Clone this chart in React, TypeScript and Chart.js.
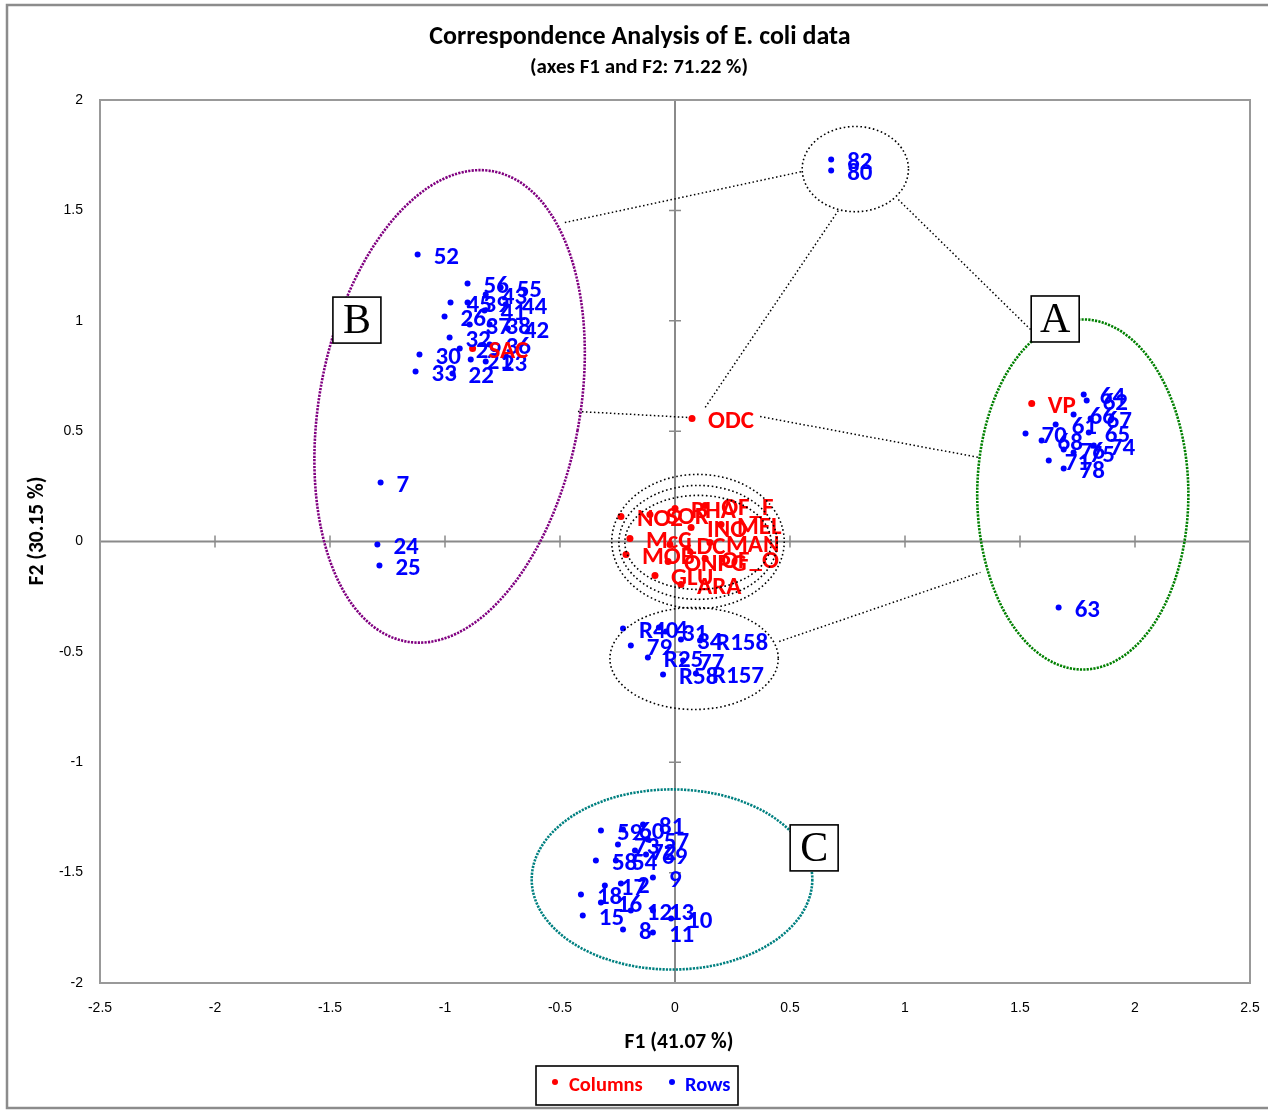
import React, { useEffect, useRef } from "react";
import { Chart, registerables } from "chart.js";

Chart.register(...registerables);

// ---------- axis ticks ----------
const xTickValues = [-2.5, -2, -1.5, -1, -0.5, 0, 0.5, 1, 1.5, 2, 2.5];
const yTickValues = [-2, -1.5, -1, -0.5, 0, 0.5, 1, 1.5, 2];

// ---------- Columns (variables, red) ----------
const columnLabels = ["SAC", "ODC", "VP", "NO2", "SOR", "RHA", "OF_F", "INO", "MEL", "McC", "LDC", "MAN", "MOB", "ONPG", "OF_O", "GLU", "ARA"];
const columnF1 = [-0.88, 0.074, 1.551, -0.235, -0.109, 0.0, 0.131, 0.07, 0.2, -0.196, -0.022, 0.152, -0.213, -0.03, 0.131, -0.087, 0.026];
const columnF2 = [0.874, 0.557, 0.625, 0.113, 0.122, 0.149, 0.163, 0.063, 0.077, 0.014, -0.014, -0.005, -0.059, -0.091, -0.077, -0.154, -0.195];

// ---------- Rows (observations, blue) ----------
const rowLabels = [
  "52", "56", "55", "43", "45", "39", "44", "41", "26", "37", "38", "42", "32", "29", "36", "30", "21", "23", "33", "22",
  "7", "24", "25",
  "82", "80",
  "64", "62", "66", "67", "70", "61", "65", "68", "76", "75", "74", "71", "78", "63",
  "R40", "4", "31", "34", "R158", "79", "R25", "77", "R58", "R157",
  "59", "60", "81", "73", "57", "72", "69", "58", "54", "9", "2", "17", "18", "16", "15", "8", "12", "13", "10", "11",
];
const rowF1 = [
  -1.119, -0.902, -0.758, -0.823, -0.976, -0.902, -0.736, -0.828, -1.002, -0.893, -0.806, -0.727, -0.98, -0.936, -0.806, -1.111, -0.888, -0.823, -1.128, -0.967,
  -1.28, -1.294, -1.285,
  0.679, 0.679,
  1.777, 1.79, 1.733, 1.807, 1.524, 1.655, 1.799, 1.594, 1.69, 1.733, 1.821, 1.625, 1.69, 1.668,
  -0.226, -0.07, -0.039, 0.026, 0.109, -0.192, -0.118, 0.035, -0.052, 0.091,
  -0.322, -0.226, -0.139, -0.248, -0.118, -0.174, -0.126, -0.344, -0.257, -0.096, -0.235, -0.305, -0.409, -0.322, -0.401, -0.226, -0.192, -0.096, -0.017, -0.096,
];
const rowF2 = [
  1.3, 1.169, 1.151, 1.119, 1.083, 1.083, 1.074, 1.046, 1.019, 0.983, 0.983, 0.965, 0.924, 0.874, 0.892, 0.847, 0.824, 0.815, 0.77, 0.761,
  0.267, -0.014, -0.109,
  1.73, 1.681,
  0.666, 0.639, 0.575, 0.557, 0.489, 0.53, 0.494, 0.458, 0.417, 0.403, 0.435, 0.367, 0.331, -0.299,
  -0.394, -0.39, -0.408, -0.444, -0.448, -0.471, -0.525, -0.539, -0.602, -0.598,
  -1.309, -1.305, -1.282, -1.373, -1.35, -1.4, -1.418, -1.445, -1.445, -1.522, -1.549, -1.558, -1.599, -1.635, -1.694, -1.758, -1.672, -1.672, -1.708, -1.771,
];

// ---------- annotation ellipses (data units) ----------
const ellipseCx = [-0.98, 1.773, -0.013, 0.784, 0.1, 0.1, 0.1, 0.083];
const ellipseCy = [0.612, 0.213, -1.531, 1.687, 0.0, -0.004, -0.004, -0.53];
const ellipseRx = [0.566, 0.459, 0.61, 0.231, 0.375, 0.344, 0.318, 0.366];
const ellipseRy = [1.083, 0.793, 0.408, 0.193, 0.304, 0.258, 0.213, 0.231];
const ellipseTilt = [10.5, 0, 0, 0, 0, 0, 0, 0];
const ellipseColors = ["#800080", "#008000", "#008080", "#000000", "#000000", "#000000", "#000000", "#000000"];

// ---------- connector lines (data units) ----------
const lineX1 = [-0.479, 0.71, 0.971, 0.37, -0.422, 0.453];
const lineY1 = [1.445, 1.499, 1.549, 0.566, 0.589, -0.453];
const lineX2 = [0.553, 0.131, 1.546, 1.32, 0.057, 1.328];
const lineY2 = [1.676, 0.607, 0.96, 0.381, 0.562, -0.14];

// ---------- group boxes ----------
const groupLetters = ["B", "A", "C"];
const groupX = [-1.383, 1.653, 0.605];
const groupY = [1.003, 1.008, -1.388];

const TEXT_FAMILY = 'Carlito, Lato, "Liberation Sans", sans-serif';
const LABEL_FONT = `bold 25px ${TEXT_FAMILY}`;

const overlayPlugin = {
  id: "overlay",
  beforeDatasetsDraw(chart: any) {
    const { ctx, chartArea: a, scales } = chart;
    const xs = scales.x;
    const ys = scales.y;
    const x0 = xs.getPixelForValue(0);
    const y0 = ys.getPixelForValue(0);
    ctx.save();
    // zero axes
    ctx.strokeStyle = "#8a8a8a";
    ctx.lineWidth = 2;
    ctx.beginPath();
    ctx.moveTo(a.left, y0);
    ctx.lineTo(a.right, y0);
    ctx.moveTo(x0, a.top);
    ctx.lineTo(x0, a.bottom);
    ctx.stroke();
    ctx.lineWidth = 1.5;
    ctx.beginPath();
    xTickValues.forEach((v) => {
      if (v === 0 || Math.abs(v) === 2.5) return;
      const px = xs.getPixelForValue(v);
      ctx.moveTo(px, y0 - 6);
      ctx.lineTo(px, y0 + 6);
    });
    yTickValues.forEach((v) => {
      if (v === 0 || Math.abs(v) === 2) return;
      const py = ys.getPixelForValue(v);
      ctx.moveTo(x0 - 6, py);
      ctx.lineTo(x0 + 6, py);
    });
    ctx.stroke();
    // plot frame
    ctx.strokeStyle = "#999999";
    ctx.lineWidth = 2;
    ctx.strokeRect(a.left, a.top, a.right - a.left, a.bottom - a.top);
    ctx.restore();
  },
  afterDatasetsDraw(chart: any) {
    const { ctx, scales } = chart;
    const xs = scales.x;
    const ys = scales.y;
    const pxPerX = Math.abs(xs.getPixelForValue(1) - xs.getPixelForValue(0));
    const pxPerY = Math.abs(ys.getPixelForValue(1) - ys.getPixelForValue(0));
    ctx.save();

    // point labels
    ctx.font = LABEL_FONT;
    ctx.textAlign = "left";
    ctx.textBaseline = "middle";
    const labelSets = [columnLabels, rowLabels];
    const labelColors = ["#ff0000", "#0000ff"];
    [1, 0].forEach((di) => {
      const meta = chart.getDatasetMeta(di);
      ctx.fillStyle = labelColors[di];
      meta.data.forEach((pt: any, i: number) => {
        ctx.fillText(labelSets[di][i], pt.x + 16, pt.y + 3);
      });
    });

    // ellipses
    ellipseCx.forEach((cx, i) => {
      const px = xs.getPixelForValue(cx);
      const py = ys.getPixelForValue(ellipseCy[i]);
      const colored = ellipseColors[i] !== "#000000";
      ctx.strokeStyle = ellipseColors[i];
      ctx.lineWidth = colored ? 2.6 : 1.6;
      ctx.setLineDash(colored ? [2.2, 1.2] : [1.6, 2.6]);
      ctx.beginPath();
      ctx.ellipse(px, py, ellipseRx[i] * pxPerX, ellipseRy[i] * pxPerY, (ellipseTilt[i] * Math.PI) / 180, 0, Math.PI * 2);
      ctx.stroke();
    });

    // connector lines
    ctx.strokeStyle = "#000000";
    ctx.lineWidth = 1.5;
    ctx.setLineDash([1.5, 2.5]);
    ctx.beginPath();
    lineX1.forEach((lx, i) => {
      ctx.moveTo(xs.getPixelForValue(lx), ys.getPixelForValue(lineY1[i]));
      ctx.lineTo(xs.getPixelForValue(lineX2[i]), ys.getPixelForValue(lineY2[i]));
    });
    ctx.stroke();
    ctx.setLineDash([]);

    // group boxes
    groupLetters.forEach((g, i) => {
      const cx = xs.getPixelForValue(groupX[i]);
      const cy = ys.getPixelForValue(groupY[i]);
      const w = 48;
      const h = 46;
      ctx.fillStyle = "#ffffff";
      ctx.fillRect(cx - w / 2, cy - h / 2, w, h);
      ctx.strokeStyle = "#000000";
      ctx.lineWidth = 1.6;
      ctx.strokeRect(cx - w / 2, cy - h / 2, w, h);
      ctx.fillStyle = "#000000";
      ctx.font = '42px "Liberation Serif", "DejaVu Serif", serif';
      ctx.textAlign = "center";
      ctx.textBaseline = "middle";
      ctx.fillText(g, cx, cy + 2);
    });
    ctx.restore();
  },
  afterDraw(chart: any) {
    const { ctx } = chart;
    ctx.save();
    ctx.fillStyle = "#000000";
    ctx.textAlign = "center";
    ctx.textBaseline = "middle";
    ctx.font = `bold 26px ${TEXT_FAMILY}`;
    ctx.fillText("Correspondence Analysis of E. coli data", 640, 37);
    ctx.font = `bold 21px ${TEXT_FAMILY}`;
    ctx.fillText("(axes F1 and F2: 71.22 %)", 639, 68);
    ctx.font = `bold 21.5px ${TEXT_FAMILY}`;
    ctx.fillText("F1 (41.07 %)", 679, 1043);
    ctx.save();
    ctx.translate(38, 531);
    ctx.rotate(-Math.PI / 2);
    ctx.fillText("F2 (30.15 %)", 0, 0);
    ctx.restore();

    // legend
    ctx.strokeStyle = "#000000";
    ctx.lineWidth = 1.6;
    ctx.strokeRect(536, 1066, 202, 39);
    ctx.textAlign = "left";
    ctx.font = `bold 20.5px ${TEXT_FAMILY}`;
    ctx.fillStyle = "#ff0000";
    ctx.beginPath();
    ctx.arc(555, 1082, 3, 0, Math.PI * 2);
    ctx.fill();
    ctx.fillText("Columns", 569, 1086);
    ctx.fillStyle = "#0000ff";
    ctx.beginPath();
    ctx.arc(672, 1082, 3, 0, Math.PI * 2);
    ctx.fill();
    ctx.fillText("Rows", 685, 1086);

    // outer chart frame
    ctx.strokeStyle = "#8c8c8c";
    ctx.lineWidth = 2.5;
    ctx.strokeRect(7, 5, 1275, 1103);
    ctx.restore();
  },
};

export default function App() {
  const canvasRef = useRef<HTMLCanvasElement | null>(null);

  useEffect(() => {
    const canvas = canvasRef.current;
    if (!canvas) return;
    const columnPoints = columnLabels.map((_, i) => ({ x: columnF1[i], y: columnF2[i] }));
    const rowPoints = rowLabels.map((_, i) => ({ x: rowF1[i], y: rowF2[i] }));
    const chart = new Chart(canvas, {
      type: "scatter",
      data: {
        datasets: [
          {
            label: "Columns",
            data: columnPoints,
            backgroundColor: "#ff0000",
            borderColor: "#ff0000",
            pointRadius: 3.5,
            pointBorderWidth: 0,
          },
          {
            label: "Rows",
            data: rowPoints,
            backgroundColor: "#0000ff",
            borderColor: "#0000ff",
            pointRadius: 3,
            pointBorderWidth: 0,
          },
        ],
      },
      options: {
        responsive: false,
        animation: false,
        devicePixelRatio: 1,
        layout: { padding: { top: 100, right: 18, left: 0, bottom: 0 } },
        plugins: {
          legend: { display: false },
          title: { display: false },
          tooltip: { enabled: false },
        },
        scales: {
          x: {
            type: "linear",
            min: -2.5,
            max: 2.5,
            afterFit: (s: any) => {
              s.height = 127;
              s.paddingLeft = 0;
              s.paddingRight = 0;
            },
            afterBuildTicks: (s: any) => {
              s.ticks = xTickValues.map((v) => ({ value: v }));
            },
            grid: { display: false, drawTicks: false },
            border: { display: false },
            ticks: {
              padding: 17,
              color: "#000000",
              font: { family: '"Liberation Sans", Arial, sans-serif', size: 14 },
              callback: (v: any) => String(v),
              maxRotation: 0,
              autoSkip: false,
            },
          },
          y: {
            type: "linear",
            min: -2,
            max: 2,
            afterFit: (s: any) => {
              s.width = 100;
              s.paddingTop = 0;
              s.paddingBottom = 0;
            },
            afterBuildTicks: (s: any) => {
              s.ticks = yTickValues.map((v) => ({ value: v }));
            },
            grid: { display: false, drawTicks: false },
            border: { display: false },
            ticks: {
              padding: 17,
              color: "#000000",
              font: { family: '"Liberation Sans", Arial, sans-serif', size: 14 },
              callback: (v: any) => String(v),
              autoSkip: false,
            },
          },
        },
      },
      plugins: [overlayPlugin],
    });
    return () => chart.destroy();
  }, []);

  return (
    <div style={{ position: "absolute", left: 0, top: 0, width: 1268, height: 1110, background: "#ffffff" }}>
      <canvas ref={canvasRef} width={1268} height={1110} style={{ display: "block" }} />
    </div>
  );
}
